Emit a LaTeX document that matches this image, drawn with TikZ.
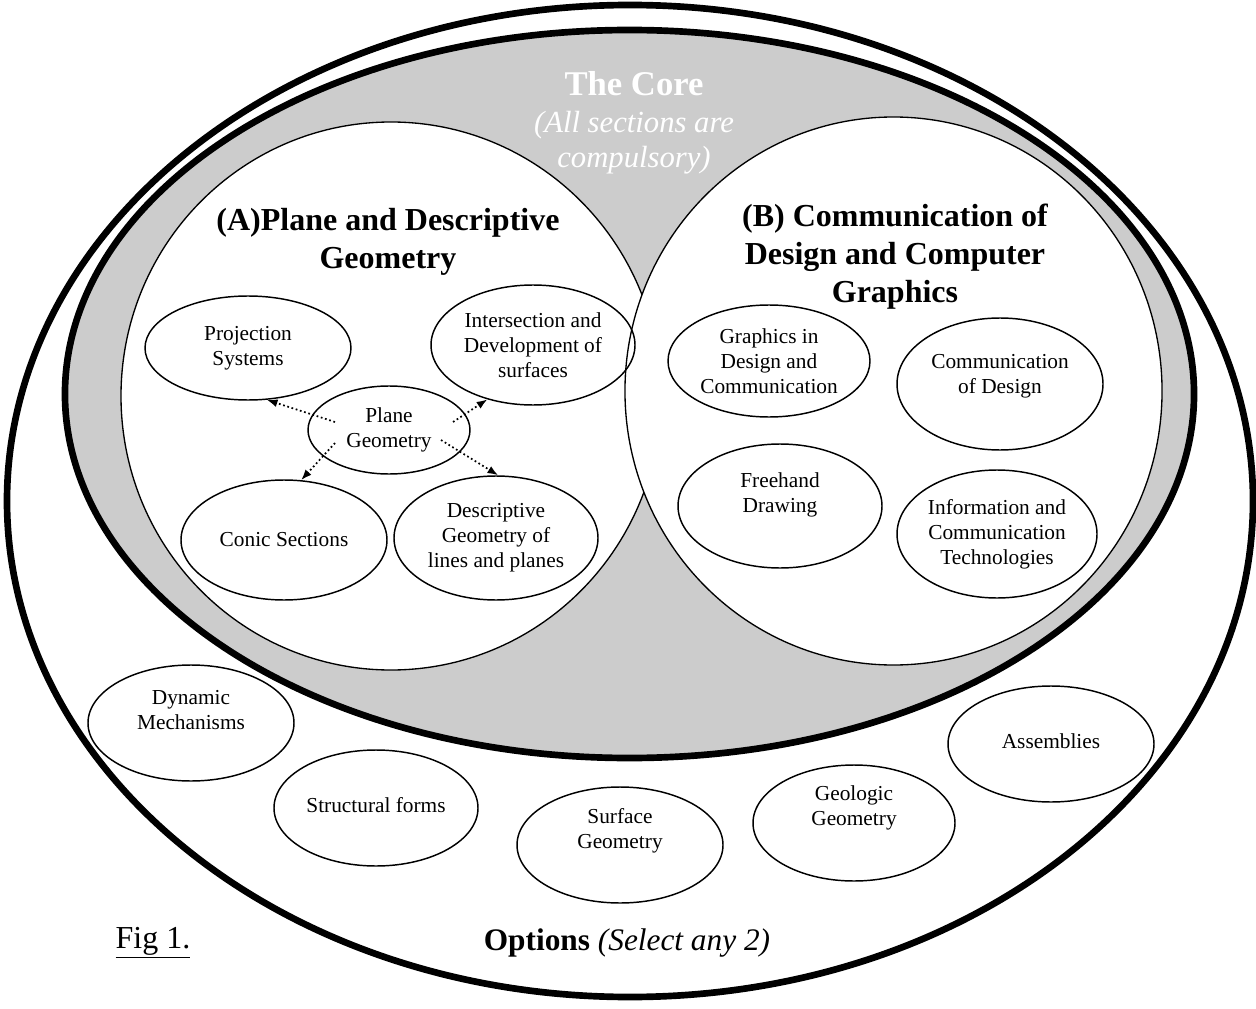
\documentclass[tikz,border=0pt]{standalone}
\usepackage{fontspec}
\setmainfont{Liberation Serif}
\usetikzlibrary{shapes.geometric,arrows.meta}

\begin{document}
\begin{tikzpicture}[x=0.75pt,y=-0.75pt,
		bub/.style 2 args={ellipse,draw,line width=1.1pt,inner sep=0pt,
			minimum width=#1*1.5pt,minimum height=#2*1.5pt},
		txt/.style={align=center,inner sep=0pt,font=\fontsize{16}{18.75}\selectfont},
		head/.style={align=center,inner sep=0pt,font=\bfseries\fontsize{24}{28.5}\selectfont},
		dotarrow/.style={dotted,line width=1.3pt,-{Latex[length=8pt,width=6pt]}}]
	\useasboundingbox (0,0) rectangle (1256,1009);
	
	% rings
	\draw[line width=5pt] (630,501) ellipse [x radius=467.25pt,y radius=372pt];
	\draw[line width=5pt,fill=black!20] (629.5,394) ellipse [x radius=423.4pt,y radius=273pt];
	\draw[line width=1pt,fill=white] (391,396) ellipse [x radius=202.5pt,y radius=205.5pt];
	\draw[line width=1pt,fill=white] (893.5,391) ellipse [x radius=201.4pt,y radius=205.5pt];
	
	\node[font=\bfseries\fontsize{26}{30}\selectfont,text=white] (core) at (634,84) {The Core};
	\node[font=\itshape\fontsize{23}{26.25}\selectfont,text=white,align=center] (coresub) at (634,143) {(All sections are\\compulsory)};
	\node[head] (secA) at (388,242) {(A)Plane and Descriptive\\Geometry};
	\node[head] (secB) at (895,257) {(B) Communication of\\Design and Computer\\Graphics};
	
	% section A
	\begin{scope}
		\node[bub={103}{52},label={[txt]center:{Projection\\Systems}}] (proj) at (248,348) {};
		\node[bub={102}{60},label={[txt]center:{Intersection and\\Development of\\surfaces}}] (isect) at (533,345) {};
		\node[bub={81}{44},label={[txt]center:{Plane\\Geometry}}] (pg) at (389,430) {};
		\node[bub={103}{60},label={[txt]center:{Conic Sections}}] (conic) at (284,540) {};
		\node[bub={102}{62},label={[txt]center:{Descriptive\\Geometry of\\lines and planes}}] (desc) at (496,538) {};
	\end{scope}
	
	\coordinate (s1) at (335,422);
	\coordinate (s2) at (453,422);
	\coordinate (s3) at (335,443);
	\coordinate (s4) at (441,440);
	\draw[dotarrow] (s1) -- (proj.-70);
	\draw[dotarrow] (s2) -- (isect.-130);
	\draw[dotarrow] (s3) -- (conic.74);
	\draw[dotarrow] (s4) -- (desc.88);
	
	% section B
	\node[bub={101}{56},label={[txt]center:{Graphics in\\Design and\\Communication}}] (gdc) at (769,361) {};
	\node[bub={103}{66},label={[txt,yshift=6pt]center:{Communication\\of Design}}] (comm) at (1000,384) {};
	\node[bub={102}{62},label={[txt,yshift=8pt]center:{Freehand\\Drawing}}] (free) at (780,506) {};
	\node[bub={100}{64},label={[txt]center:{Information and\\Communication\\Technologies}}] (ict) at (997,534) {};
	
	% options
	\node[bub={103}{58},label={[txt,yshift=10pt]center:{Dynamic\\Mechanisms}}] (dyn) at (191,723) {};
	\node[bub={102}{58},label={[txt,yshift=2pt]center:{Structural forms}}] (struct) at (376,808) {};
	\node[bub={103}{58},label={[txt,yshift=11pt]center:{Surface\\Geometry}}] (surf) at (620,845) {};
	\node[bub={101}{58},label={[txt,yshift=11pt]center:{Geologic\\Geometry}}] (geo) at (854,823) {};
	\node[bub={103}{58},label={[txt,yshift=2pt]center:{Assemblies}}] (assy) at (1051,744) {};
	
	\node[font=\fontsize{23.5}{27}\selectfont] (opt) at (627,943) {\textbf{Options} \textit{(Select any 2)}};
	\node[font=\fontsize{24}{28}\selectfont] (fig) at (153,943) {\underline{Fig 1.}};
\end{tikzpicture}
\end{document}
